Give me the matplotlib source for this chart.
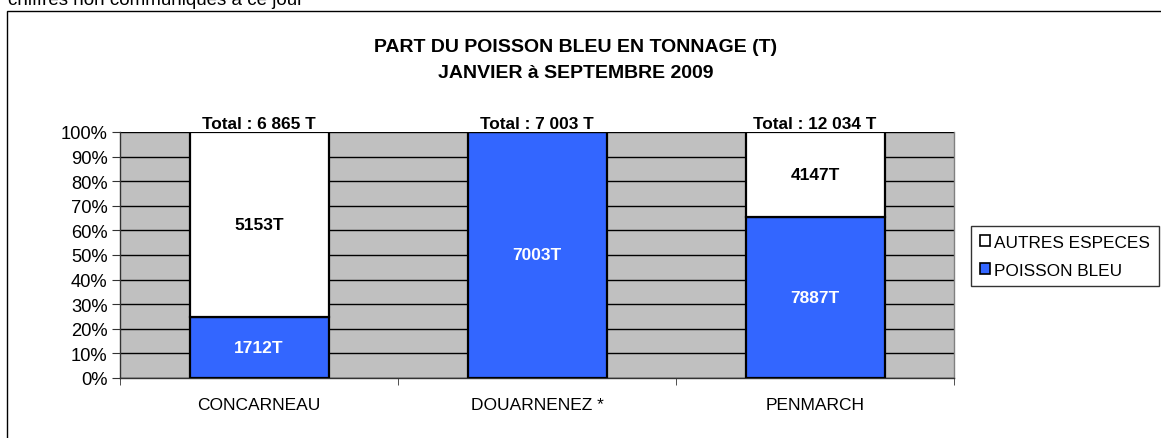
import matplotlib
matplotlib.use("Agg")
import matplotlib.pyplot as plt
from matplotlib.patches import Patch, Rectangle
import numpy as np

plt.rcParams['font.family'] = ['Liberation Sans', 'DejaVu Sans']

ports = ["CONCARNEAU", "DOUARNENEZ *", "PENMARCH"]
poisson_bleu = [1712, 7003, 7887]
autres_especes = [5153, 0, 4147]
y_ticks = [0, 10, 20, 30, 40, 50, 60, 70, 80, 90, 100]

BLUE = "#3366FF"
GRAY = "#C0C0C0"

W, H = 1161, 439
fig = plt.figure(figsize=(W / 100, H / 100), dpi=100)

# outer frame (extends beyond right/bottom edge)
fig.patches.append(Rectangle((7 / W, -0.05), 1.2, 1 - 12 / H + 0.05, transform=fig.transFigure,
                             fill=False, edgecolor="black", linewidth=1.0))
fig.text(8 / W, 1 - 5 / H, "chiffres non communiqués à ce jour", fontsize=13.5,
         va="baseline", ha="left")

ax = fig.add_axes([120 / W, 1 - 379 / H, (954 - 120) / W, (379 - 133) / H])
ax.set_facecolor(GRAY)

totals = [b + a for b, a in zip(poisson_bleu, autres_especes)]
pct_b = [100 * b / t for b, t in zip(poisson_bleu, totals)]
pct_a = [100 * a / t for a, t in zip(autres_especes, totals)]
x = np.arange(len(ports))

ax.bar(x, pct_b, width=0.5, color=BLUE, edgecolor="black", linewidth=1.6, zorder=3)
ax.bar(x, pct_a, width=0.5, bottom=pct_b, color="white", edgecolor="black", linewidth=1.6, zorder=3)

for i in range(len(ports)):
    if poisson_bleu[i] > 0:
        ax.text(x[i], pct_b[i] / 2, f"{poisson_bleu[i]}T", ha="center", va="center",
                color="white", fontweight="bold", fontsize=12.5, zorder=5)
    if autres_especes[i] > 0:
        ax.text(x[i], pct_b[i] + pct_a[i] / 2, f"{autres_especes[i]}T", ha="center", va="center",
                color="black", fontweight="bold", fontsize=12.5, zorder=5)
    tot = f"{totals[i]:,}".replace(",", " ")
    ax.text(x[i], 100.4, f"Total : {tot} T", ha="center", va="bottom",
            color="black", fontweight="bold", fontsize=12.4, zorder=5)

ax.set_xlim(-0.5, len(ports) - 0.5)
ax.set_ylim(0, 100)
ax.set_yticks(y_ticks)
ax.set_yticklabels([f"{v}%" for v in y_ticks], fontsize=13.2)
ax.yaxis.grid(True, color="black", linewidth=1.0, zorder=1)
ax.set_axisbelow(True)

ax.set_xticks(x)
ax.set_xticklabels(ports, fontsize=12.5)
ax.tick_params(axis="x", length=0, pad=14)
ax.set_xticks(np.arange(-0.5, len(ports), 1.0), minor=True)
ax.tick_params(axis="x", which="minor", length=5, direction="out", color="#333333")
ax.tick_params(axis="y", length=6, direction="out", color="#333333", pad=3)

for s in ["left", "bottom"]:
    ax.spines[s].set_color("#333333")
    ax.spines[s].set_linewidth(1.0)
ax.spines["top"].set_visible(False)
ax.spines["right"].set_color("#808080")
ax.spines["right"].set_linewidth(1.0)

fig.text(576 / W, 1 - 47 / H, "PART DU POISSON BLEU EN TONNAGE (T)", ha="center", va="center",
         fontweight="bold", fontsize=14)
fig.text(576 / W, 1 - 74 / H, "JANVIER à SEPTEMBRE 2009", ha="center", va="center",
         fontweight="bold", fontsize=14)

handles = [Patch(facecolor="white", edgecolor="black", linewidth=1.2, label="AUTRES ESPECES"),
           Patch(facecolor=BLUE, edgecolor="black", linewidth=1.2, label="POISSON BLEU")]
leg = fig.legend(handles=handles, loc="upper left", bbox_to_anchor=(971 / W, 1 - 227 / H),
                 fontsize=12.4, frameon=True, fancybox=False, edgecolor="black",
                 handlelength=0.6, handleheight=0.6, handletextpad=0.25,
                 borderpad=0.5, labelspacing=0.75, borderaxespad=0)
leg.get_frame().set_linewidth(1.0)

fig.savefig("out.png", dpi=100)
